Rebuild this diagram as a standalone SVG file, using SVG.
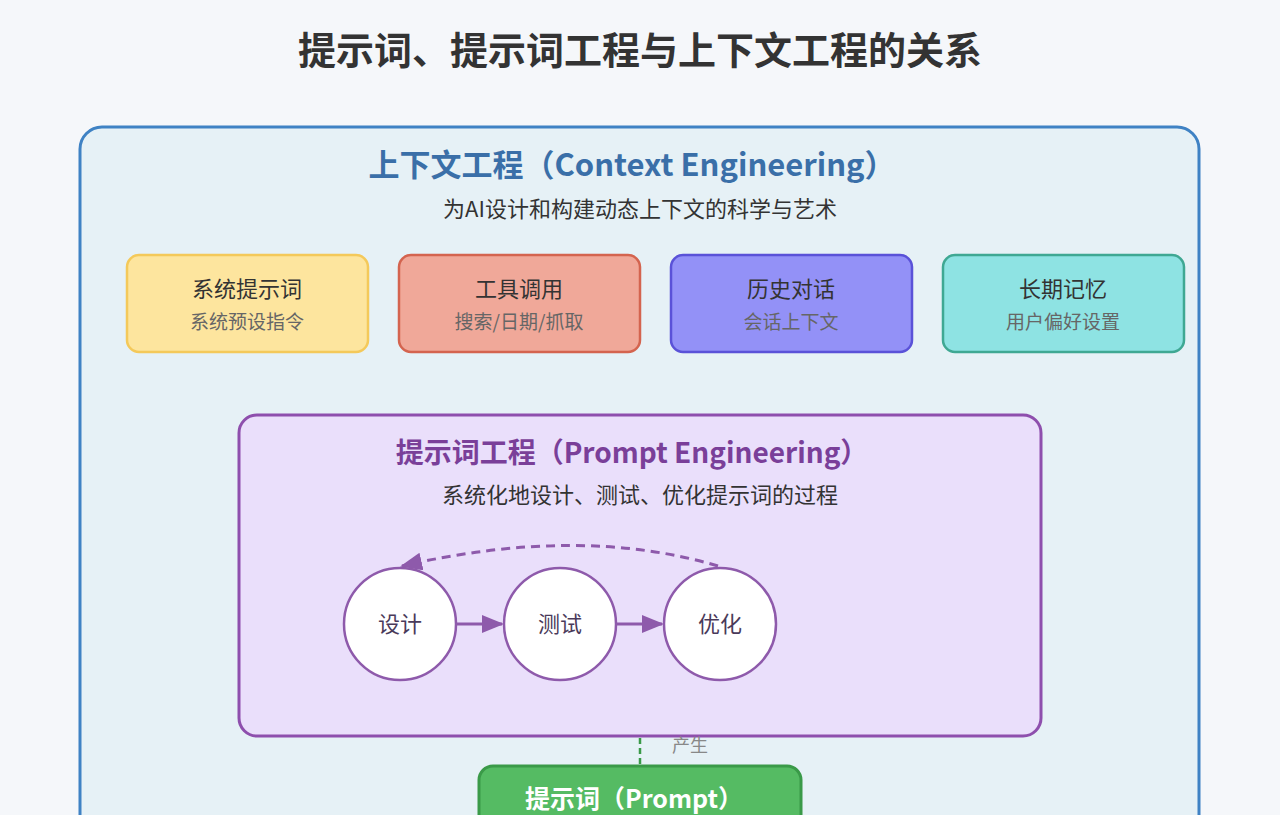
<svg xmlns="http://www.w3.org/2000/svg" width="1280" height="815" viewBox="0 0 1280 815">
<defs>
<style>
text{font-family:"Noto Sans CJK SC","Liberation Sans",sans-serif;text-anchor:middle}
.t{font-size:22px;fill:#333}
.s{font-size:19px;fill:#666}
.card{stroke-width:2.5}
.c{fill:#fff;stroke:#8e5aab;stroke-width:2.5}
.ct{font-size:22px;fill:#4a3a5a}
</style>
<marker id="ar2" markerWidth="22" markerHeight="18" refX="20" refY="9" orient="auto" markerUnits="userSpaceOnUse"><path d="M0,0L22,9L0,18z" fill="#8e5aab"/></marker>
</defs>
<rect width="1280" height="815" fill="#f5f7fa"/>
<text x="640" y="64" style="font-size:38px;font-weight:bold;fill:#333">提示词、提示词工程与上下文工程的关系</text>
<g id="context">
<rect x="80" y="127" width="1119" height="720" rx="22" fill="#e6f1f6" stroke="#3f82c4" stroke-width="3"/>
<text x="632" y="176" style="font-size:31px;font-weight:bold;fill:#3a6fa8">上下文工程（Context Engineering）</text>
<text x="640" y="217" class="t">为AI设计和构建动态上下文的科学与艺术</text>
</g>
<g id="sys"><rect class="card" x="127" y="255" width="241" height="97" rx="12" fill="#fde59e" stroke="#f4c95a"/><text x="247" y="297" class="t">系统提示词</text><text x="247" y="329" class="s">系统预设指令</text></g>
<g id="tool"><rect class="card" x="399" y="255" width="241" height="97" rx="12" fill="#f0a899" stroke="#d4644f"/><text x="519" y="297" class="t">工具调用</text><text x="519" y="329" class="s">搜索/日期/抓取</text></g>
<g id="hist"><rect class="card" x="671" y="255" width="241" height="97" rx="12" fill="#9391f7" stroke="#5a52d8"/><text x="791" y="297" class="t">历史对话</text><text x="791" y="329" class="s">会话上下文</text></g>
<g id="mem"><rect class="card" x="943" y="255" width="241" height="97" rx="12" fill="#8ee3e3" stroke="#3fa893"/><text x="1063" y="297" class="t">长期记忆</text><text x="1063" y="329" class="s">用户偏好设置</text></g>
<g id="pe">
<rect x="239" y="415" width="802" height="321" rx="18" fill="#eadffb" stroke="#8e4fad" stroke-width="3"/>
<text x="632" y="463" style="font-size:28px;font-weight:bold;fill:#7a3f99">提示词工程（Prompt Engineering）</text>
<text x="640" y="503" class="t">系统化地设计、测试、优化提示词的过程</text>
</g>
<g id="design"><circle class="c" cx="400" cy="624" r="56"/><text x="400" y="632" class="ct">设计</text></g>
<g id="test"><circle class="c" cx="560" cy="624" r="56"/><text x="560" y="632" class="ct">测试</text></g>
<g id="opt"><circle class="c" cx="720" cy="624" r="56"/><text x="720" y="632" class="ct">优化</text></g>
<g id="prompt"><rect x="479" y="766" width="322" height="90" rx="14" fill="#55bb63" stroke="#3a9a48" stroke-width="3"/><text x="634" y="808" style="font-size:25px;font-weight:bold;fill:#fff">提示词（Prompt）</text></g>
<g id="connectors" fill="none">
<line x1="456" y1="624" x2="502" y2="624" stroke="#8e5aab" stroke-width="3" marker-end="url(#ar2)"/>
<line x1="616" y1="624" x2="662" y2="624" stroke="#8e5aab" stroke-width="3" marker-end="url(#ar2)"/>
<path d="M718,566 Q580,525 402,566" stroke="#8e5aab" stroke-width="3" stroke-dasharray="9,6" marker-end="url(#ar2)"/>
<line x1="640" y1="738" x2="640" y2="765" stroke="#3a9a48" stroke-width="2.5" stroke-dasharray="6,4"/>
<text x="690" y="752" style="font-size:18px;fill:#888">产生</text>
</g>
</svg>
